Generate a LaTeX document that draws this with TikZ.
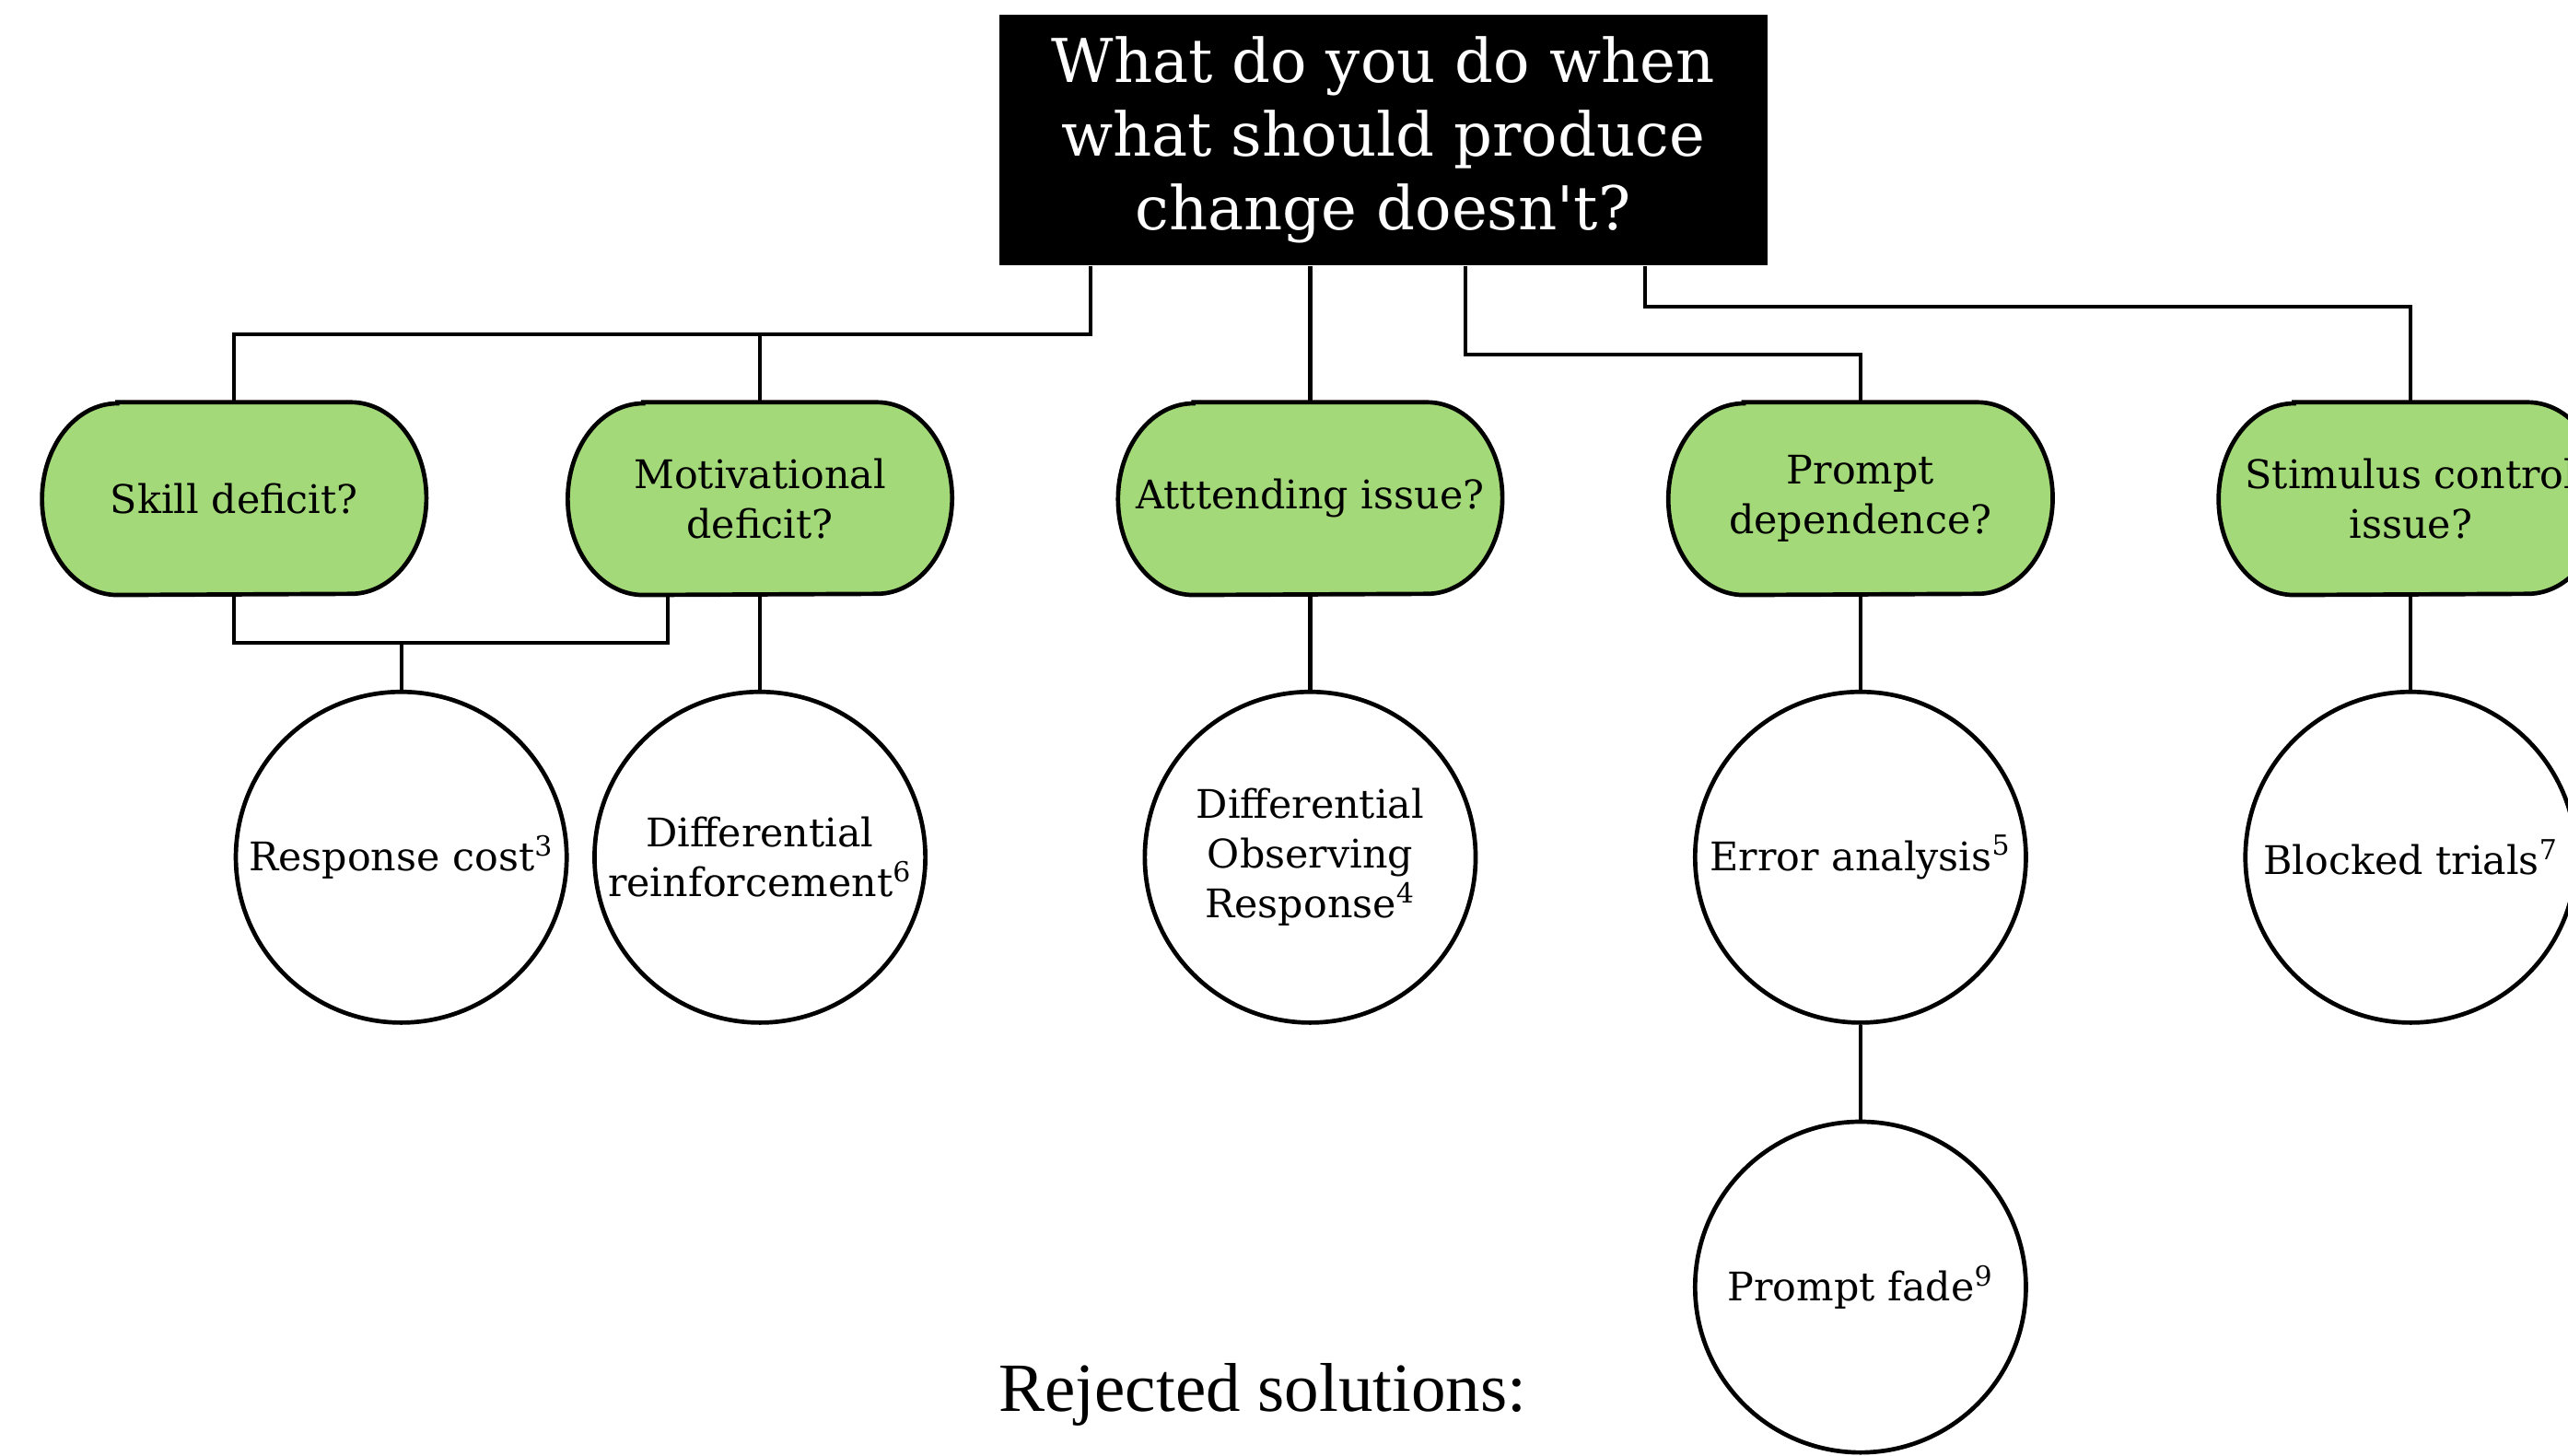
\documentclass[tikz,border=0pt]{standalone}
\usepackage{fontspec}
\setmainfont{DejaVu Serif}
\newfontfamily\timesfont{Liberation Serif}
\usetikzlibrary{backgrounds,calc}
\definecolor{qgreen}{RGB}{163,217,120}
\newcommand\qfont{\fontsize{13.7}{17.2}\selectfont}
\newcommand\qshapeof[1]{\path[qshape] ($(#1.north west)+(0.92,0)$) -- ($(#1.north east)+(-0.92,0)$) arc[start angle=90,end angle=-90,x radius=0.92cm,y radius=1.17cm] -- ($(#1.south west)+(0.92,0)$) arc[start angle=270,end angle=90,x radius=0.92cm,y radius=1.17cm] -- cycle;}
\tikzset{
  qnode/.style={minimum width=4.68cm, minimum height=2.34cm, inner sep=0pt, align=center, font=\qfont},
  qshape/.style={fill=qgreen, draw=black, line width=1.5pt},
  sol/.style={circle, draw=black, line width=1.5pt, fill=white, minimum size=4.04cm, inner sep=0pt, align=center, font=\qfont},
  conn/.style={line width=1.3pt},
  titlebox/.style={fill=black, text=white, minimum width=9.38cm, minimum height=3.06cm, inner sep=0pt, align=center, font=\fontsize{21}{25.5}\selectfont}
}
\begin{document}
\begin{tikzpicture}
\useasboundingbox (0,0) rectangle (31.36,-17.78);
\clip (0,0) rectangle (31.36,-17.78);

\node[titlebox] (title) at (16.89,-1.71) {What do you do when\\what should produce\\change doesn\textquotesingle t?};

\node[qnode] (skill) at (2.86,-6.09) {Skill deficit?};
\node[qnode] (mot) at (9.28,-6.09) {Motivational\\deficit?};
\node[qnode] (att) at (16.0,-6.09) {Atttending issue?};
\node[qnode] (prm) at (22.72,-6.09) {Prompt\\dependence?};
\node[qnode] (stim) at (29.44,-6.09) {Stimulus control\\issue?};

\begin{scope}[on background layer]
\fill[white] (0,0) rectangle (31.36,-17.78);
\qshapeof{skill}
\qshapeof{mot}
\qshapeof{att}
\qshapeof{prm}
\qshapeof{stim}
\end{scope}

\node[sol] (rc) at (4.9,-10.47) {Response cost\textsuperscript{3}};
\node[sol] (dr) at (9.28,-10.47) {Differential\\reinforcement\textsuperscript{6}};
\node[sol] (dor) at (16.0,-10.47) {Differential\\Observing\\Response\textsuperscript{4}};
\node[sol] (ea) at (22.72,-10.47) {Error analysis\textsuperscript{5}};
\node[sol] (bt) at (29.44,-10.47) {Blocked trials\textsuperscript{7}};
\node[sol] (pf) at (22.72,-15.72) {Prompt fade\textsuperscript{9}};

\node[anchor=base, inner sep=0pt, font=\timesfont\fontsize{24}{28}\selectfont] (rej) at (15.42,-17.24) {Rejected solutions:};

% connectors from title
\coordinate (j1) at ($(title.south west)+(1.12,-0.84)$);
\draw[conn] ($(title.south west)+(1.12,0)$) -- (j1) -| (skill.north);
\draw[conn] (mot.north) -- (mot.north |- j1);
\draw[conn] (att.north) -- (att.north |- title.south);
\draw[conn] ($(title.south west)+(5.7,0)$) -- ++(0,-1.08) -| (prm.north);
\draw[conn] ($(title.south west)+(7.9,0)$) -- ++(0,-0.5) -| (stim.north);

% connectors to solutions
\coordinate (j2) at ($(skill.south)+(0,-0.58)$);
\draw[conn] (skill.south) -- (j2) -| ($(mot.south)+(-1.12,0)$);
\draw[conn] (rc.north) -- (rc.north |- j2);
\draw[conn] (mot.south) -- (dr.north);
\draw[conn] (att.south) -- (dor.north);
\draw[conn] (prm.south) -- (ea.north);
\draw[conn] (ea.south) -- (pf.north);
\draw[conn] (stim.south) -- (bt.north);
\end{tikzpicture}
\end{document}
